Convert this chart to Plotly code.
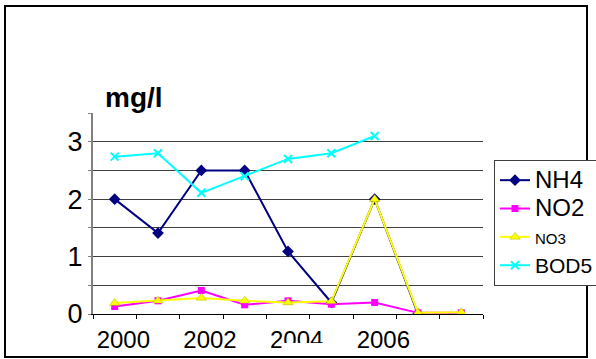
import plotly.graph_objects as go

years = [2000, 2001, 2002, 2003, 2004, 2005, 2006, 2007, 2008]
nh4 = [2.0, 1.41, 2.5, 2.5, 1.09, 0.2, 2.0, 0.0, None]
no2 = [0.13, 0.23, 0.41, 0.16, 0.23, 0.17, 0.2, 0.02, 0.02]
no3 = [0.19, 0.23, 0.28, 0.23, 0.2, 0.22, 2.0, 0.02, 0.03]
bod5 = [2.74, 2.8, 2.11, 2.4, 2.7, 2.8, 3.1, None, None]

xtick_labels = ["2000", "2002", "2004", "2006"]
xtick_years = [2000, 2002, 2004, 2006]
ytick_vals = [0, 0.5, 1, 1.5, 2, 2.5, 3, 3.5]
ytick_text = ["0", "", "1", "", "2", "", "3", ""]

W, H = 596, 359
L, R, T, B = 93, 113, 113, 45
pw, ph = W - L - R, H - T - B

def px_x(p):
    return (p - L) / pw

def px_y(p):
    return (H - B - p) / ph

fig = go.Figure()
fig.add_trace(go.Scatter(x=years, y=nh4, mode="lines+markers",
                         name="<span style='font-size:24px'>NH4</span>",
                         line=dict(color="#000080", width=2),
                         marker=dict(symbol="diamond", size=9, color="#000080")))
fig.add_trace(go.Scatter(x=years, y=no2, mode="lines+markers",
                         name="<span style='font-size:24px'>NO2</span>",
                         line=dict(color="#FF00FF", width=2),
                         marker=dict(symbol="square", size=7, color="#FF00FF")))
fig.add_trace(go.Scatter(x=years, y=no3, mode="lines+markers",
                         name="<span style='font-size:15px'>NO3</span>",
                         line=dict(color="#FFFF00", width=2),
                         marker=dict(symbol="triangle-up", size=9, color="#FFFF00",
                                     line=dict(color="#B0B000", width=0.5))))
fig.add_trace(go.Scatter(x=years, y=bod5, mode="lines+markers",
                         name="<span style='font-size:21px'>BOD5</span>",
                         line=dict(color="#00FFFF", width=2),
                         marker=dict(symbol="x-thin-open", size=8,
                                     line=dict(color="#00FFFF", width=2))))

fig.update_layout(
    width=W, height=H,
    margin=dict(l=L, r=R, t=T, b=B, autoexpand=False),
    paper_bgcolor="white", plot_bgcolor="white",
    font=dict(family="Liberation Sans, Arial, sans-serif", color="black"),
    showlegend=True,
    legend=dict(x=px_x(494), y=px_y(160), xanchor="left", yanchor="top",
                bordercolor="#404040", borderwidth=1, bgcolor="white",
                font=dict(size=19.5), tracegroupgap=0, itemwidth=30),
    xaxis=dict(range=[1999.5, 2008.5], showgrid=False, zeroline=False,
               tickvals=[y + 0.2 for y in xtick_years], ticktext=xtick_labels,
               ticks="", tickfont=dict(size=24), ticklabelstandoff=4,
               showline=True, linecolor="black", linewidth=1,
               minor=dict(tickvals=[y - 0.5 for y in years] + [2008.5],
                          ticks="outside", ticklen=4, tickcolor="black", showgrid=False)),
    yaxis=dict(range=[0, 3.5], tickvals=ytick_vals, ticktext=ytick_text,
               showgrid=True, gridcolor="#404040", gridwidth=1, zeroline=False,
               ticks="outside", ticklen=3, tickcolor="#808080",
               tickfont=dict(size=27),
               showline=True, linecolor="#808080", linewidth=2),
    annotations=[dict(text="<b>mg/l</b>", xref="paper", yref="paper",
                      x=px_x(103), y=px_y(115), xanchor="left", yanchor="bottom",
                      showarrow=False, font=dict(size=28))],
    shapes=[
        dict(type="rect", xref="x", yref="paper", x0=2003.85, x1=2004.85,
             y0=px_y(352), y1=px_y(343), fillcolor="white", line=dict(width=0),
             layer="above"),
        dict(type="rect", xref="paper", yref="paper", x0=px_x(5), x1=px_x(587),
             y0=px_y(357), y1=px_y(6), line=dict(color="black", width=2),
             layer="above"),
    ],
)

fig.write_html("out.html", config={"displayModeBar": False},
               post_script="document.body.style.margin='0';document.body.style.padding='0';document.body.style.overflow='hidden';")
